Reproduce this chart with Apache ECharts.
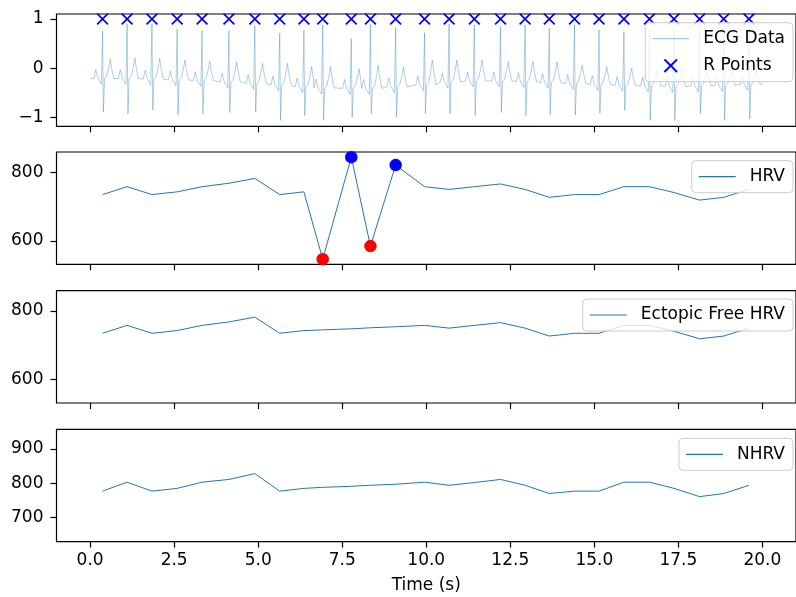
<!DOCTYPE html>
<html>
<head>
<meta charset="utf-8">
<script src="https://cdn.jsdelivr.net/npm/echarts@6/dist/echarts.min.js"></script>
<style>
html,body{margin:0;padding:0;background:#fff;}
#container{width:796px;height:597px;}
</style>
</head>
<body>
<div id="container"></div>
<script>
var rTimes = [0.37, 1.10, 1.84, 2.59, 3.33, 4.13, 4.90, 5.64, 6.36, 6.92, 7.77, 8.34, 9.09, 9.95,
    10.68, 11.43, 12.21, 12.94, 13.66, 14.41, 15.14, 15.88, 16.64, 17.37, 18.13, 18.85, 19.60];
// per beat ECG levels
var rAmp = [0.75, 0.90, 0.90, 0.80, 0.76, 0.76, 0.87, 0.71, 0.77, 0.88, 0.60, 0.89, 0.82, 0.72,
    0.90, 0.88, 0.85, 0.88, 0.81, 0.88, 0.78, 0.74, 0.80, 0.78, 0.82, 0.80, 0.78];
var sAmp = [-0.89, -0.93, -0.85, -0.95, -0.93, -0.90, -0.89, -1.06, -0.96, -1.05, -1.00, -0.93, -0.99, -0.92,
    -0.93, -0.96, -0.90, -0.96, -0.95, -0.95, -0.92, -0.86, -1.06, -1.06, -0.92, -1.06, -1.03];
var tAmp = [0.18, 0.21, 0.20, 0.16, 0.15, 0.13, 0.10, 0.10, 0.03, 0.03, -0.01, 0.06, 0.02, 0.16,
    0.16, 0.16, 0.13, 0.14, 0.13, 0.06, 0.03, 0.00, -0.03, 0.00, -0.03, 0.00, -0.03];
var baseAmp = [-0.21, -0.21, -0.22, -0.24, -0.25, -0.28, -0.31, -0.34, -0.38, -0.40, -0.41, -0.41, -0.38, -0.34,
    -0.28, -0.26, -0.26, -0.27, -0.29, -0.31, -0.33, -0.35, -0.36, -0.37, -0.36, -0.35, -0.33];
// beat shape: time offsets from R and what each point takes
var shapeDt = [-0.26, -0.20, -0.14, -0.035, 0, 0.025, 0.06, 0.12, 0.19, 0.23, 0.28, 0.34];
var ecgStart = 0.0, ecgEnd = 20.0;

// RR intervals (ms)
var hrv = [735, 758, 735, 743, 758, 768, 782, 735, 743, 547, 844, 585, 821, 758,
    750, 758, 766, 750, 727, 735, 735, 758, 758, 741, 719, 727, 750];
var ectopicFree = [735, 758, 735, 743, 758, 768, 782, 735, 743, 745, 748, 751, 754, 758,
    750, 758, 766, 750, 727, 735, 735, 758, 758, 741, 719, 727, 750];
var nhrv = [777, 803, 777, 785, 803, 811, 828, 777, 785, 788, 791, 794, 797, 803,
    794, 802, 811, 794, 770, 777, 777, 803, 803, 785, 761, 770, 794];
var lowIdx = [9, 11];
var highIdx = [10, 12];

var xTicks = [0, 2.5, 5, 7.5, 10, 12.5, 15, 17.5, 20];
var yTicks = [[-1, 0, 1], [600, 800], [600, 800], [700, 800, 900]];
var yRange = [[-1.18, 1.1], [532, 859], [532, 859], [630, 957]];

var dom = document.getElementById("container");
var myChart = echarts.init(dom);

var ecgData = [[ecgStart, baseAmp[0]]];
for (var i = 0; i < rTimes.length; i++) {
    var b = baseAmp[i], t = tAmp[i];
    var vals = [b, b + 0.18, b, b - 0.12, rAmp[i], sAmp[i], b, b + 0.04, b + (t - b) * 0.6, t, b + (t - b) * 0.45, b];
    for (var k = 0; k < shapeDt.length; k++) {
        var x = rTimes[i] + shapeDt[k];
        if (x > ecgStart && x < ecgEnd) ecgData.push([x, vals[k]]);
    }
}
ecgData.push([ecgEnd, baseAmp[baseAmp.length - 1]]);
ecgData.sort(function (a, b) { return a[0] - b[0]; });

function pairs(ys) {
    return rTimes.map(function (t, i) { return [t, ys[i]]; });
}
function pick(idx) {
    return idx.map(function (i) { return [rTimes[i], hrv[i]]; });
}

var font = 'DejaVu Sans';
var xPath = 'path://M0,1L1,0L5,4L9,0L10,1L6,5L10,9L9,10L5,6L1,10L0,9L4,5Z';
var lineIcon = 'path://M0,0H37V1.2H0Z';
var tops = [14, 152, 290.7, 429.3];

var grids = [], xAxes = [], yAxes = [];
for (var g = 0; g < 4; g++) {
    grids.push({left: 56.5, width: 746.6, top: tops[g], height: 112.3,
        show: true, borderColor: '#000', borderWidth: 1.2, backgroundColor: 'transparent'});
    xAxes.push({
        type: 'value', gridIndex: g, min: -1, max: 21, position: 'bottom',
        axisLine: {show: false, onZero: false},
        splitLine: {show: false},
        axisTick: {show: true, customValues: xTicks, length: 6, lineStyle: {color: '#000', width: 1.2}},
        axisLabel: {show: g === 3, customValues: xTicks, margin: 10, fontSize: 17, fontFamily: font, color: '#000',
            formatter: function (v) { return v.toFixed(1); }},
        name: g === 3 ? 'Time (s)' : '',
        nameLocation: 'middle', nameGap: 35,
        nameTextStyle: {fontSize: 17, fontFamily: font, color: '#000'}
    });
    yAxes.push({
        type: 'value', gridIndex: g, min: yRange[g][0], max: yRange[g][1], position: 'left',
        axisLine: {show: false, onZero: false},
        splitLine: {show: false},
        axisTick: {show: true, customValues: yTicks[g], length: 6, lineStyle: {color: '#000', width: 1.2}},
        axisLabel: {customValues: yTicks[g], margin: 13, fontSize: 17, fontFamily: font, color: '#000',
            formatter: function (v) { return String(v).replace('-', '\u2212'); }}
    });
}

var legendBase = {
    right: 3, orient: 'vertical', selectedMode: false,
    backgroundColor: 'rgba(255,255,255,0.8)', borderColor: '#cccccc', borderWidth: 1, borderRadius: 4,
    padding: [6, 8, 6, 7], itemWidth: 37, itemHeight: 14, itemGap: 7,
    formatter: function (name) { return '{gap| }{t|' + name + '}'; },
    textStyle: {
        fontSize: 17, fontFamily: font, color: '#000', lineHeight: 20,
        rich: {
            gap: {width: 9, fontSize: 17, fontFamily: font, lineHeight: 20},
            t: {fontSize: 17, fontFamily: font, color: '#000', lineHeight: 20}
        }
    }
};
var legendData = [
    [{name: 'ECG Data', icon: lineIcon}, {name: 'R Points'}],
    [{name: 'HRV', icon: lineIcon}],
    [{name: 'Ectopic Free HRV', icon: lineIcon}],
    [{name: 'NHRV', icon: lineIcon}]
];
var legendTops = [22.7, 160.7, 299, 438.3];
var legends = legendData.map(function (d, i) {
    return Object.assign({}, legendBase, {data: d, top: legendTops[i]});
});

var blueLine = {color: '#1f77b4', width: 1};

var option = {
    animation: false,
    grid: grids,
    xAxis: xAxes,
    yAxis: yAxes,
    legend: legends,
    series: [
        {
            name: 'ECG Data', type: 'line', xAxisIndex: 0, yAxisIndex: 0,
            data: ecgData, symbol: 'none', showSymbol: false,
            lineStyle: {color: '#1f77b4', width: 0.9, opacity: 0.4},
            itemStyle: {color: 'rgba(31,119,180,0.4)'}
        },
        {
            name: 'R Points', type: 'scatter', xAxisIndex: 0, yAxisIndex: 0,
            data: rTimes.map(function (t) { return [t, 1]; }),
            symbol: xPath, symbolSize: 12, itemStyle: {color: '#0000ff', opacity: 1}, z: 3
        },
        {
            name: 'HRV', type: 'line', xAxisIndex: 1, yAxisIndex: 1,
            data: pairs(hrv), symbol: 'none', lineStyle: blueLine, itemStyle: {color: '#1f77b4'}
        },
        {
            name: 'low', type: 'scatter', xAxisIndex: 1, yAxisIndex: 1,
            data: pick(lowIdx), symbolSize: 12.5, itemStyle: {color: '#ff0000', opacity: 1}, z: 3
        },
        {
            name: 'high', type: 'scatter', xAxisIndex: 1, yAxisIndex: 1,
            data: pick(highIdx), symbolSize: 12.5, itemStyle: {color: '#0000ff', opacity: 1}, z: 3
        },
        {
            name: 'Ectopic Free HRV', type: 'line', xAxisIndex: 2, yAxisIndex: 2,
            data: pairs(ectopicFree), symbol: 'none', lineStyle: blueLine, itemStyle: {color: '#1f77b4'}
        },
        {
            name: 'NHRV', type: 'line', xAxisIndex: 3, yAxisIndex: 3,
            data: pairs(nhrv), symbol: 'none', lineStyle: blueLine, itemStyle: {color: '#1f77b4'}
        }
    ]
};
myChart.setOption(option);
</script>
</body>
</html>
